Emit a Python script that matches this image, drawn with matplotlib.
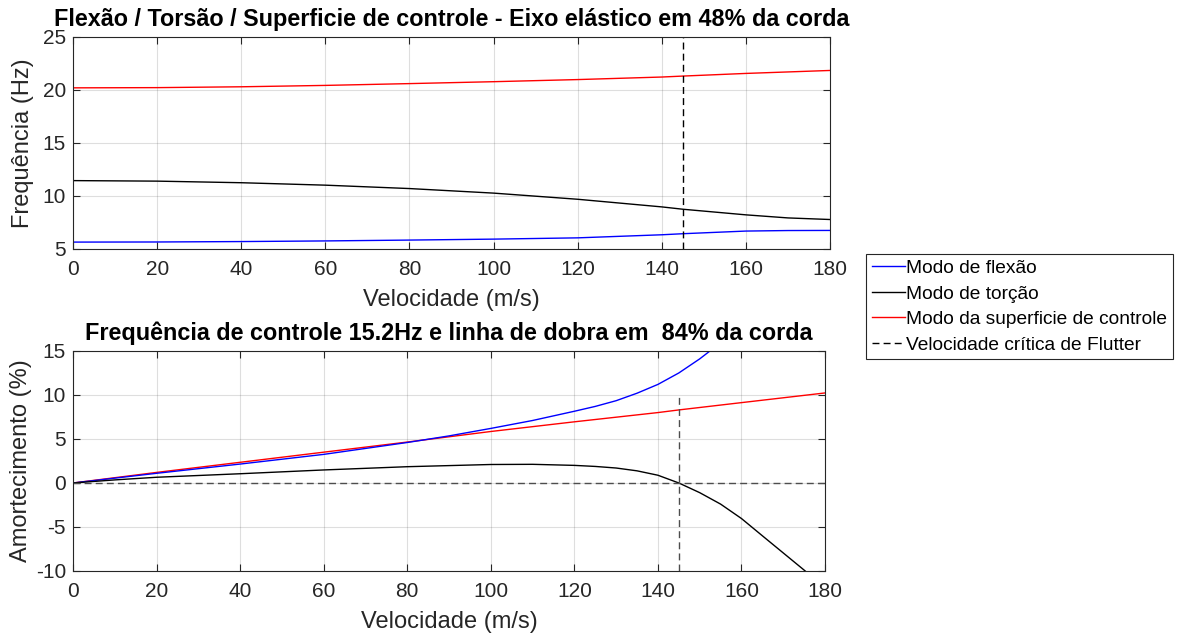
import numpy as np
import matplotlib.pyplot as plt

plt.rcParams['font.family'] = ['Liberation Sans', 'DejaVu Sans']
plt.rcParams['axes.unicode_minus'] = False

# frequencias (Hz) - grafico superior
v_freq = [0, 20, 40, 60, 80, 100, 120, 140, 145, 160, 170, 180]
freq_flexao = [5.65, 5.66, 5.7, 5.76, 5.84, 5.93, 6.05, 6.34, 6.44, 6.69, 6.74, 6.75]
freq_torcao = [11.45, 11.4, 11.25, 11.02, 10.7, 10.27, 9.69, 8.97, 8.75, 8.22, 7.93, 7.78]
freq_controle = [20.2, 20.22, 20.3, 20.43, 20.6, 20.78, 20.98, 21.22, 21.31, 21.56, 21.7, 21.84]

# amortecimento (%) - grafico inferior
v_amort_flexao = [0, 20, 40, 60, 80, 90, 100, 110, 120, 125, 130, 135, 140, 145, 150, 153]
amort_flexao = [0, 1.1, 2.15, 3.25, 4.6, 5.35, 6.2, 7.1, 8.15, 8.7, 9.35, 10.2, 11.2, 12.5, 14.1, 15.2]
v_amort_torcao = [0, 10, 20, 40, 60, 80, 100, 110, 120, 125, 130, 135, 140, 145, 150, 155,
                  160, 165, 170, 175, 176]
amort_torcao = [0, 0.35, 0.65, 1.05, 1.48, 1.85, 2.1, 2.12, 2.0, 1.88, 1.7, 1.38, 0.88, 0.0,
                -1.1, -2.4, -4.04, -6.0, -7.95, -9.9, -10.3]
v_amort_controle = [0, 20, 40, 60, 80, 100, 120, 140, 145, 160, 180]
amort_controle = [0, 1.2, 2.35, 3.5, 4.65, 5.85, 6.95, 8.0, 8.3, 9.13, 10.23]

v_flutter = 145

fig = plt.figure(figsize=(11.82, 6.35), dpi=100)
ax1 = fig.add_axes([0.0618, 0.6079, 0.6404, 0.3339])
ax2 = fig.add_axes([0.0618, 0.1008, 0.6362, 0.3465])

cinza = (0.15, 0.15, 0.15)
tracejado = (0.3, 0.3, 0.3)

def estilo(ax):
    ax.grid(True, color=(0.15, 0.15, 0.15), alpha=0.15, linewidth=0.8)
    ax.set_axisbelow(True)
    ax.tick_params(direction='in', top=True, right=True, length=5, width=0.8,
                   colors=cinza, labelsize=15)
    ax.tick_params(axis='x', pad=8)
    ax.tick_params(axis='y', pad=5)
    for s in ax.spines.values():
        s.set_color(cinza)
        s.set_linewidth(0.8)
    ax.set_xlim(0, 180)
    ax.set_xticks(np.arange(0, 181, 20))
    ax.set_xlabel('Velocidade (m/s)', fontsize=17, color=cinza, labelpad=7)

l1, = ax1.plot(v_freq, freq_flexao, color='blue', lw=1.0)
l2, = ax1.plot(v_freq, freq_torcao, color='black', lw=1.0)
l3, = ax1.plot(v_freq, freq_controle, color='red', lw=1.0)
l4, = ax1.plot([v_flutter, v_flutter], [5, 25], color='black', ls='--', lw=1.0, dashes=(5, 3))
ax1.set_ylim(5, 25)
ax1.set_yticks([5, 10, 15, 20, 25])
estilo(ax1)
ax1.set_ylabel('Frequência (Hz)', fontsize=17, color=cinza, labelpad=6)
ax1.set_title('Flexão / Torsão / Superficie de controle - Eixo elástico em 48% da corda',
              fontsize=16.8, fontweight='bold', pad=8)

ax2.plot(v_amort_controle, amort_controle, color='red', lw=1.0)
ax2.plot(v_amort_flexao, amort_flexao, color='blue', lw=1.0)
ax2.plot(v_amort_torcao, amort_torcao, color='black', lw=1.0)
ax2.plot([0, 180], [0, 0], color=tracejado, ls='--', lw=1.0, dashes=(5, 3))
ax2.plot([v_flutter, v_flutter], [-10, 10], color=tracejado, ls='--', lw=1.0, dashes=(5, 3))
ax2.set_ylim(-10, 15)
ax2.set_yticks([-10, -5, 0, 5, 10, 15])
estilo(ax2)
ax2.set_ylabel('Amortecimento (%)', fontsize=17, color=cinza, labelpad=3)
ax2.set_title('Frequência de controle 15.2Hz e linha de dobra em  84% da corda',
              fontsize=16.8, fontweight='bold', pad=8)

leg = fig.legend([l1, l2, l3, l4],
                 ['Modo de flexão', 'Modo de torção', 'Modo da superficie de controle',
                  'Velocidade crítica de Flutter'],
                 loc='upper left', bbox_to_anchor=(0.7327, 0.6), borderaxespad=0,
                 fontsize=13.8, handlelength=1.75, handletextpad=0.05, labelspacing=0.42,
                 borderpad=0.3, fancybox=False, framealpha=1)
leg.get_frame().set_edgecolor(cinza)
leg.get_frame().set_linewidth(0.8)

fig.savefig('out.png', dpi=100)
